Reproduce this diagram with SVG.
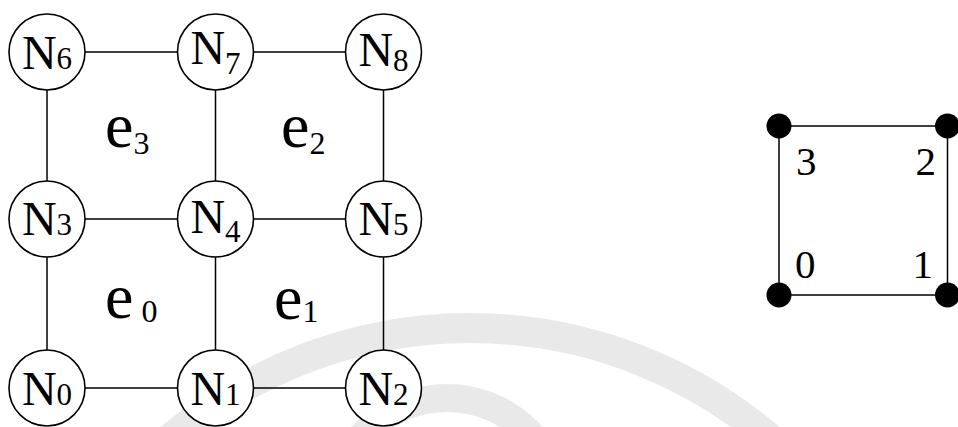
<svg xmlns="http://www.w3.org/2000/svg" width="958" height="427" viewBox="0 0 958 427">
  <style>
    .edge { stroke: #000; stroke-width: 1.5; fill: none; }
    .node circle { fill: #fff; stroke: #000; stroke-width: 1.6; }
    .lbl { font-family: "Liberation Serif", "Times New Roman", serif; font-size: 48px; fill: #000; }
    .sub { font-size: 31px; }
    .elem { font-family: "Liberation Serif", "Times New Roman", serif; font-size: 64px; fill: #000; }
    .esub { font-size: 32px; }
    .corner { font-family: "Liberation Serif", "Times New Roman", serif; font-size: 41px; fill: #000; }
    .seal { fill: none; stroke: #e9e9e9; }
  </style>

  <rect width="958" height="427" fill="#fff"/>

  <!-- faint seal bands in the background -->
  <g id="seal">
    <circle class="seal" cx="470" cy="790" r="462" stroke-width="30"/>
    <circle class="seal" cx="447" cy="512" r="114" stroke-width="28"/>
  </g>

  <!-- mesh edges -->
  <g id="connectors">
    <line class="edge" x1="47" y1="52" x2="383.5" y2="52"/>
    <line class="edge" x1="47" y1="219" x2="383.5" y2="219"/>
    <line class="edge" x1="47" y1="388" x2="383.5" y2="388"/>
    <line class="edge" x1="47" y1="52" x2="47" y2="388"/>
    <line class="edge" x1="215.5" y1="52" x2="215.5" y2="388"/>
    <line class="edge" x1="383.5" y1="52" x2="383.5" y2="388"/>
  </g>

  <!-- element labels -->
  <g id="elements">
    <text class="elem" x="105" y="147">e<tspan class="esub" dy="7">3</tspan></text>
    <text class="elem" x="281" y="147">e<tspan class="esub" dy="7">2</tspan></text>
    <text class="elem" x="105" y="318">e<tspan class="esub" dx="8" dy="4">0</tspan></text>
    <text class="elem" x="274" y="319">e<tspan class="esub" dy="3">1</tspan></text>
  </g>

  <!-- nodes -->
  <g id="N6" class="node"><circle cx="47" cy="52" r="38"/>
    <text class="lbl" x="47" y="69" text-anchor="middle">N<tspan class="sub">6</tspan></text></g>
  <g id="N7" class="node"><circle cx="215.5" cy="52" r="38"/>
    <text class="lbl" x="215.5" y="64" text-anchor="middle">N<tspan class="sub" dy="10">7</tspan></text></g>
  <g id="N8" class="node"><circle cx="383.5" cy="52" r="38"/>
    <text class="lbl" x="383.5" y="66" text-anchor="middle">N<tspan class="sub" dy="5">8</tspan></text></g>

  <g id="N3" class="node"><circle cx="47" cy="219" r="38"/>
    <text class="lbl" x="47" y="235" text-anchor="middle">N<tspan class="sub">3</tspan></text></g>
  <g id="N4" class="node"><circle cx="215.5" cy="219" r="38"/>
    <text class="lbl" x="215.5" y="233" text-anchor="middle">N<tspan class="sub" dy="9">4</tspan></text></g>
  <g id="N5" class="node"><circle cx="383.5" cy="219" r="38"/>
    <text class="lbl" x="383.5" y="235" text-anchor="middle">N<tspan class="sub">5</tspan></text></g>

  <g id="N0" class="node"><circle cx="47" cy="388" r="38"/>
    <text class="lbl" x="47" y="405" text-anchor="middle">N<tspan class="sub">0</tspan></text></g>
  <g id="N1" class="node"><circle cx="215.5" cy="388" r="38"/>
    <text class="lbl" x="215.5" y="405" text-anchor="middle">N<tspan class="sub">1</tspan></text></g>
  <g id="N2" class="node"><circle cx="383.5" cy="388" r="38"/>
    <text class="lbl" x="383.5" y="405" text-anchor="middle">N<tspan class="sub">2</tspan></text></g>

  <!-- reference element with local corner numbering -->
  <g id="ref-element">
    <rect class="edge" x="779" y="126" width="168.5" height="169"/>
    <circle cx="779" cy="126" r="12.5" fill="#000"/>
    <circle cx="947.5" cy="126" r="12.5" fill="#000"/>
    <circle cx="779" cy="295" r="12.5" fill="#000"/>
    <circle cx="947.5" cy="295" r="12.5" fill="#000"/>
    <text class="corner" x="796" y="175">3</text>
    <text class="corner" x="936" y="175" text-anchor="end">2</text>
    <text class="corner" x="795" y="278">0</text>
    <text class="corner" x="933" y="278" text-anchor="end">1</text>
  </g>
</svg>
